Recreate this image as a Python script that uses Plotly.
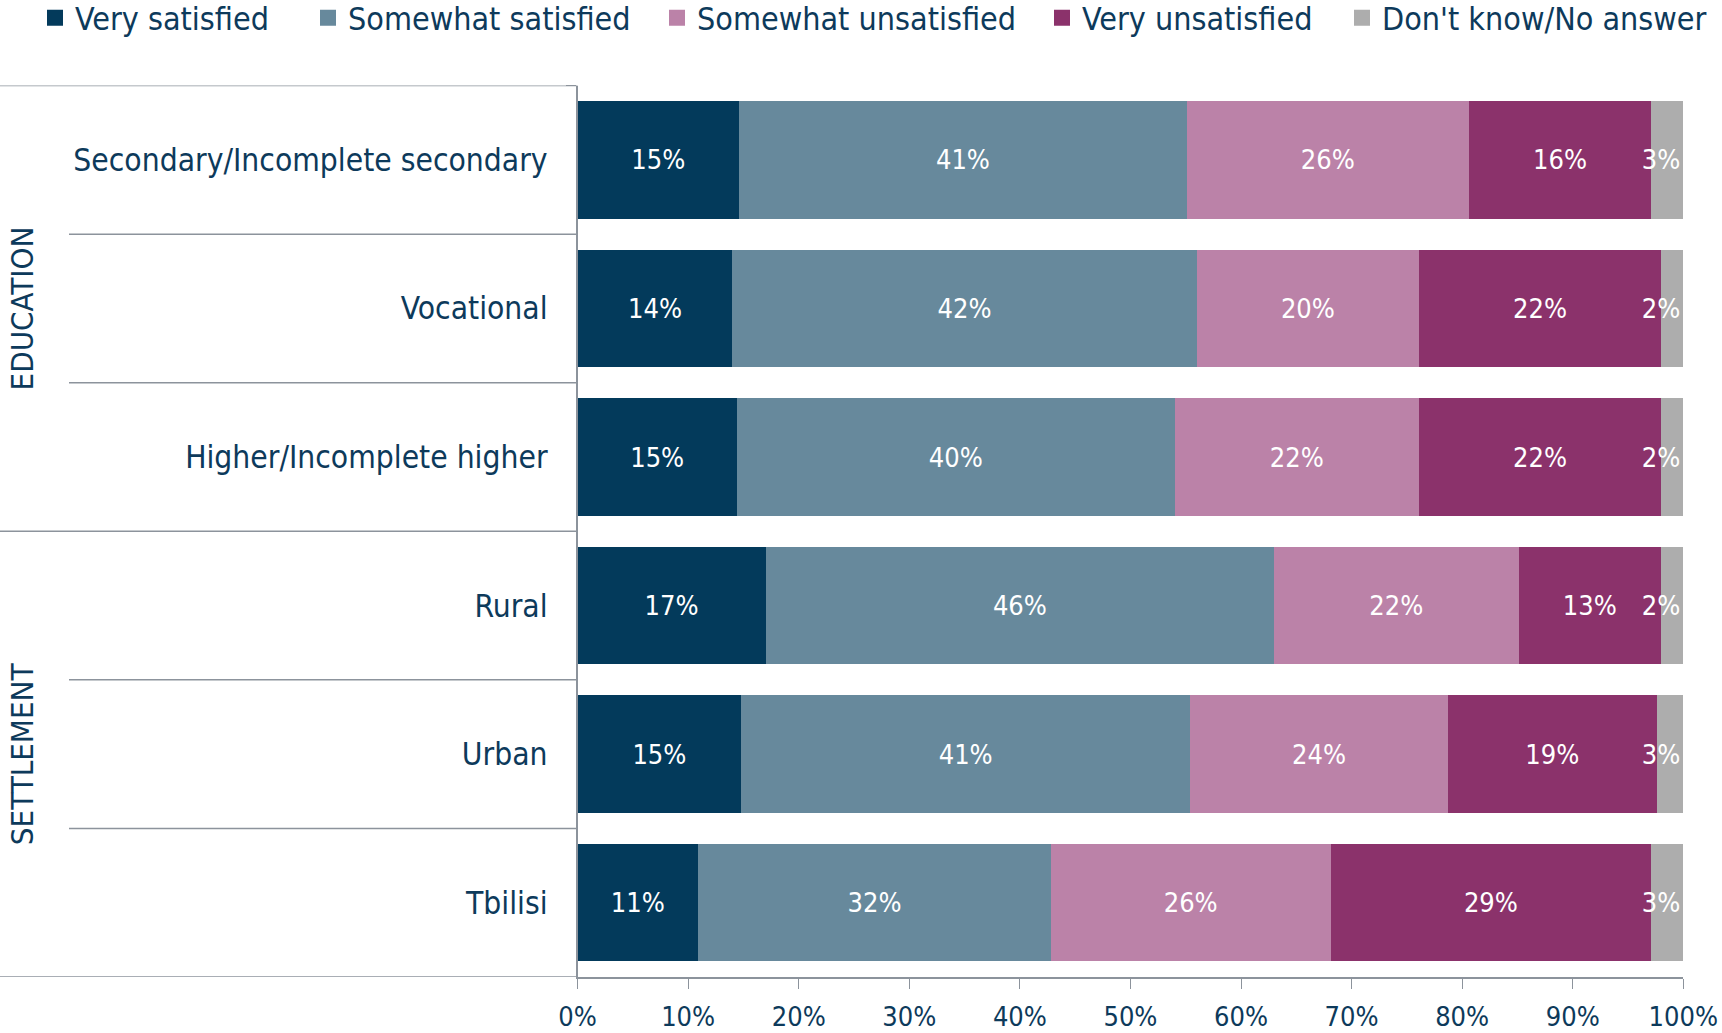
import plotly.graph_objects as go

categories = ["Secondary/Incomplete secondary", "Vocational", "Higher/Incomplete higher",
              "Rural", "Urban", "Tbilisi"]
groups = ["EDUCATION", "SETTLEMENT"]
series_names = ["Very satisfied", "Somewhat satisfied", "Somewhat unsatisfied",
                "Very unsatisfied", "Don't know/No answer"]

very_sat = [14.6, 14.0, 14.4, 17.0, 14.8, 10.9]
some_sat = [40.5, 42.0, 39.6, 46.0, 40.6, 31.9]
some_unsat = [25.5, 20.1, 22.1, 22.1, 23.3, 25.3]
very_unsat = [16.5, 21.9, 21.9, 12.9, 18.9, 29.0]
dont_know = [2.9, 2.0, 2.0, 2.0, 2.4, 2.9]

very_sat_lbl = [15, 14, 15, 17, 15, 11]
some_sat_lbl = [41, 42, 40, 46, 41, 32]
some_unsat_lbl = [26, 20, 22, 22, 24, 26]
very_unsat_lbl = [16, 22, 22, 13, 19, 29]
dont_know_lbl = [3, 2, 2, 2, 3, 3]

x_ticks = [0, 10, 20, 30, 40, 50, 60, 70, 80, 90, 100]
x_ticktext = [f"{t}%" for t in x_ticks]

colors = ["#033a5b", "#67899c", "#bb82a8", "#8b326b", "#adadad"]
TXT = "#0d3a5b"
LINE = "#8c939c"
FONT = "DejaVu Sans Condensed, Liberation Sans, Arial, sans-serif"

W, H = 1722, 1033
px_x = lambda p: p / W
px_y = lambda p: 1 - p / H

plot_left, plot_right = 577.6, 1683.3
plot_top, plot_bottom = 85.6, 977.0

fig = go.Figure()
values = [very_sat, some_sat, some_unsat, very_unsat, dont_know]
labels = [very_sat_lbl, some_sat_lbl, some_unsat_lbl, very_unsat_lbl, dont_know_lbl]
legend_ids = ["legend", "legend2", "legend3", "legend4", "legend5"]
legend_x = [47, 320, 669, 1054, 1354]
anchors = ["middle", "middle", "middle", "middle", "end"]

for name, vals, lbls, col, anc in zip(series_names, values, labels, colors, anchors):
    fig.add_trace(go.Bar(
        y=categories, x=vals, orientation="h", name=name,
        marker=dict(color=col, line=dict(width=0)),
        text=[f"{v}%" for v in lbls], textposition="inside",
        insidetextanchor=anc, textangle=0,
        textfont=dict(color="white", size=27, family=FONT),
        showlegend=False, hoverinfo="skip", cliponaxis=False,
    ))

# legend entries with larger square swatches
for name, col, lid in zip(series_names, colors, legend_ids):
    fig.add_trace(go.Scatter(
        x=[None], y=[None], mode="markers", name=name, legend=lid,
        marker=dict(symbol="square", size=16, color=col),
        hoverinfo="skip", showlegend=True,
    ))

layout_legends = {}
for lid, lx in zip(legend_ids, legend_x):
    layout_legends[lid] = dict(
        x=px_x(lx - 12), xanchor="left", y=px_y(18), yanchor="middle",
        orientation="h", font=dict(size=32, color=TXT, family=FONT),
        bgcolor="rgba(0,0,0,0)", borderwidth=0, itemwidth=30,
        itemsizing="trace", tracegroupgap=0,
    )

shapes = []
bounds = [-0.5, 0.5, 1.5, 2.5, 3.5, 4.5, 5.5]
for b in bounds:
    full = b in (-0.5, 2.5, 5.5)
    shapes.append(dict(type="line", xref="paper", yref="y",
                       x0=0 if full else px_x(69), x1=px_x(plot_left),
                       y0=b, y1=b, line=dict(color=LINE, width=1.5)))

annotations = [
    dict(text=groups[0], xref="paper", yref="y", x=px_x(22), y=1, textangle=-90,
         showarrow=False, font=dict(size=31, color=TXT, family=FONT),
         xanchor="center", yanchor="middle"),
    dict(text=groups[1], xref="paper", yref="y", x=px_x(22), y=4, textangle=-90,
         showarrow=False, font=dict(size=31, color=TXT, family=FONT),
         xanchor="center", yanchor="middle"),
]

fig.update_layout(
    width=W, height=H, barmode="stack", bargap=0.21,
    paper_bgcolor="white", plot_bgcolor="white",
    margin=dict(l=0, r=0, t=0, b=0, autoexpand=False),
    font=dict(family=FONT, color=TXT),
    uniformtext=dict(mode="show", minsize=27),
    shapes=shapes, annotations=annotations,
    showlegend=True,
    xaxis=dict(domain=[px_x(plot_left), px_x(plot_right)], range=[0, 100],
               tickvals=x_ticks, ticktext=x_ticktext, ticks="outside", ticklen=10,
               tickcolor=LINE, showline=True, linecolor=LINE, linewidth=1.5,
               showgrid=False, zeroline=False, automargin=False,
               tickfont=dict(size=27, color=TXT, family=FONT), ticklabelstandoff=5),
    yaxis=dict(domain=[px_y(plot_bottom), px_y(plot_top)], range=[5.5, -0.5],
               categoryorder="array", categoryarray=categories,
               ticks="outside", tickson="boundaries", ticklen=10, tickcolor=LINE,
               showline=True, linecolor=LINE, linewidth=1.5, showgrid=False,
               automargin=False, ticklabelstandoff=22,
               tickfont=dict(size=31.5, color=TXT, family=FONT)),
    **layout_legends,
)

fig.write_html("out.html", config={"displayModeBar": False},
               post_script="document.body.style.margin='0';document.body.style.overflow='hidden';")
